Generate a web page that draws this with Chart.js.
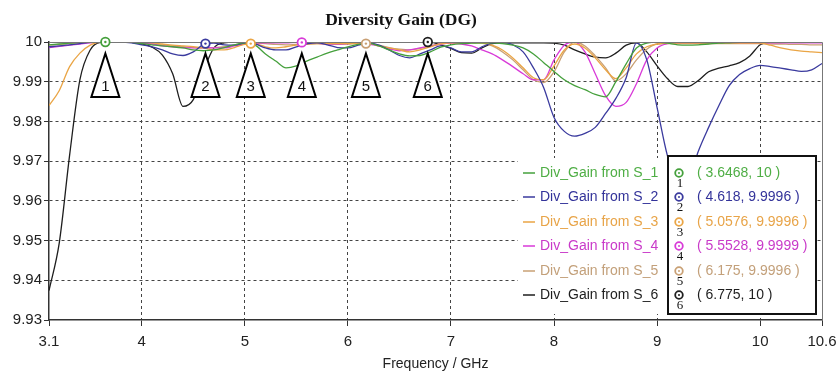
<!DOCTYPE html>
<html>
<head>
<meta charset="utf-8">
<script src="https://cdn.jsdelivr.net/npm/chart.js@4.4.0/dist/chart.umd.min.js"></script>
<style>
  html, body { margin: 0; padding: 0; background: #fff; }
  #wrap { width: 837px; height: 379px; }
</style>
</head>
<body>
<div id="wrap"><canvas id="dgChart" width="837" height="379"></canvas></div>
<script>
// frequency grid (GHz)
var freq = [3.1, 3.2, 3.3, 3.4, 3.5, 3.6, 3.7, 3.8, 3.9,
  4.0, 4.1, 4.2, 4.3, 4.4, 4.5, 4.6, 4.7, 4.8, 4.9,
  5.0, 5.1, 5.2, 5.3, 5.4, 5.5, 5.6, 5.7, 5.8, 5.9,
  6.0, 6.1, 6.2, 6.3, 6.4, 6.5, 6.6, 6.7, 6.8, 6.9,
  7.0, 7.1, 7.2, 7.3, 7.4, 7.5, 7.6, 7.7, 7.8, 7.9,
  8.0, 8.1, 8.2, 8.3, 8.4, 8.5, 8.6, 8.7, 8.8, 8.9,
  9.0, 9.1, 9.2, 9.3, 9.4, 9.5, 9.6, 9.7, 9.8, 9.9,
  10.0, 10.1, 10.2, 10.3, 10.4, 10.5, 10.6];

// diversity gain for each port
var dgS1 = [9.9993, 9.9995, 9.9997, 9.9999, 10, 10, 10, 10, 9.9999,
  9.9996, 9.9993, 9.999, 9.9988, 9.9985, 9.998, 9.9978, 9.998, 9.9986, 9.9993,
  9.9998, 9.9992, 9.997, 9.9952, 9.9935, 9.994, 9.9952, 9.9962, 9.9972, 9.998,
  9.9988, 9.9994, 9.9997, 9.999, 9.998, 9.997, 9.9965, 9.9966, 9.9975, 9.9987,
  9.9993, 9.9996, 9.9997, 9.9998, 9.9998, 9.9996, 9.9992, 9.9985, 9.997, 9.9948,
  9.9926, 9.9905, 9.989, 9.988, 9.9868, 9.9862, 9.99, 9.9945, 9.9985, 9.9997,
  10, 9.9997, 9.9993, 9.9992, 9.9993, 9.9995, 9.9997, 9.9998, 9.9999, 9.9999,
  9.9999, 9.9999, 9.9999, 9.9999, 9.9999, 9.9999, 9.9999];

var dgS2 = [9.9988, 9.999, 9.9993, 9.9996, 9.9999, 10, 10, 10, 9.9998,
  9.9993, 9.9988, 9.998, 9.997, 9.9966, 9.9975, 9.9994, 9.9997, 9.9993, 9.9992,
  9.9997, 9.9995, 9.9985, 9.998, 9.998, 9.9988, 9.9995, 9.9998, 9.9993, 9.9986,
  9.9985, 9.9992, 9.9998, 9.9992, 9.998, 9.9966, 9.996, 9.997, 9.998, 9.999,
  9.9985, 9.9975, 9.9975, 9.9988, 9.9997, 10, 9.9993, 9.9975, 9.9935, 9.9885,
  9.981, 9.9775, 9.9763, 9.977, 9.9785, 9.982, 9.9858, 9.991, 9.9998, 9.9955,
  9.9835, 9.9714, 9.964, 9.965, 9.9725, 9.9785, 9.984, 9.989, 9.9918, 9.9933,
  9.9941, 9.9938, 9.9934, 9.993, 9.9926, 9.993, 9.9946];

var dgS3 = [9.984, 9.9878, 9.9938, 9.9972, 9.9992, 10, 10, 10, 10,
  10, 9.9998, 9.9995, 9.9992, 9.999, 9.9988, 9.9985, 9.998, 9.998, 9.9986,
  9.9994, 9.9995, 9.9988, 9.9985, 9.9988, 9.9992, 9.9995, 9.9996, 9.9996, 9.9996,
  9.9996, 9.9997, 9.9998, 9.999, 9.9985, 9.998, 9.9975, 9.998, 9.9988, 9.9995,
  9.9998, 9.9998, 9.9998, 9.9998, 9.9992, 9.998, 9.996, 9.9935, 9.991, 9.9905,
  9.994, 9.998, 9.9995, 9.9985, 9.996, 9.993, 9.9908, 9.9935, 9.997, 9.9988,
  9.9995, 9.9997, 9.9997, 9.9997, 9.9997, 9.9997, 9.9997, 9.9997, 9.9997, 9.9997,
  9.9997, 9.9992, 9.9985, 9.998, 9.9977, 9.9975, 9.9973];

var dgS4 = [9.9986, 9.9989, 9.9992, 9.9995, 9.9998, 10, 10, 10, 10,
  9.9998, 9.9995, 9.999, 9.9988, 9.9986, 9.9985, 9.9986, 9.9985, 9.9985, 9.999,
  9.9995, 9.9997, 9.9998, 9.9998, 9.9998, 9.9999, 9.9999, 9.9997, 9.9995, 9.9995,
  9.9996, 9.9997, 9.9995, 9.999, 9.9983, 9.9978, 9.998, 9.9985, 9.999, 9.9995,
  9.9997, 9.9995, 9.999, 9.998, 9.997, 9.9955, 9.9938, 9.992, 9.9905, 9.9905,
  9.9955, 9.9992, 10, 9.9975, 9.992, 9.9865, 9.9838, 9.9848, 9.9895, 9.9955,
  9.9985, 9.9996, 9.9998, 9.9998, 9.9998, 9.9998, 9.9998, 9.9998, 9.9998, 9.9998,
  9.9998, 9.9998, 9.9998, 9.9998, 9.9998, 9.9998, 9.9998];

var dgS5 = [9.9992, 9.9994, 9.9996, 9.9998, 10, 10, 10, 10, 10,
  9.9999, 9.9996, 9.9993, 9.999, 9.9988, 9.9986, 9.9985, 9.9986, 9.9988, 9.9992,
  9.9996, 9.9997, 9.9996, 9.9994, 9.9993, 9.9994, 9.9995, 9.9996, 9.9995, 9.9994,
  9.9995, 9.9996, 9.9996, 9.9992, 9.9986, 9.9982, 9.998, 9.9984, 9.999, 9.9995,
  9.9998, 9.9999, 9.9999, 9.9997, 9.999, 9.9975, 9.9955, 9.993, 9.9905, 9.9898,
  9.9925, 9.9975, 10, 9.999, 9.9965, 9.9935, 9.9902, 9.992, 9.9955, 9.9982,
  9.9995, 9.9996, 9.9996, 9.9996, 9.9996, 9.9996, 9.9996, 9.9996, 9.9996, 9.9996,
  9.9996, 9.9995, 9.9995, 9.9994, 9.9994, 9.9993, 9.9993];

var dgS6 = [9.9374, 9.9495, 9.9715, 9.9905, 9.998, 9.9999, 10, 10, 9.9999,
  9.9995, 9.9987, 9.9967, 9.992, 9.9838, 9.9855, 9.9928, 9.9985, 9.9998, 10,
  10, 10, 10, 10, 10, 10, 10, 10, 10, 10,
  10, 10, 10, 10, 10, 10, 10, 10, 10, 9.9993,
  9.9984, 9.9973, 9.9972, 9.9985, 9.9996, 9.9998, 9.9998, 9.9998, 9.9998, 9.9998,
  9.9997, 9.9992, 9.998, 9.997, 9.9962, 9.996, 9.9972, 9.9992, 9.9998, 9.9975,
  9.994, 9.9908, 9.9888, 9.9888, 9.9903, 9.9925, 9.9934, 9.994, 9.9948, 9.9965,
  9.9993, 9.9999, 10, 10, 10, 10, 10];

var seriesNames = ['Div_Gain from S_1', 'Div_Gain from S_2', 'Div_Gain from S_3',
  'Div_Gain from S_4', 'Div_Gain from S_5', 'Div_Gain from S_6'];
var seriesValues = [dgS1, dgS2, dgS3, dgS4, dgS5, dgS6];
var lineColors = ['#45a03c', '#3a3a9e', '#eaa545', '#d83ad8', '#c9a074', '#1e1e1e'];
var textColors = ['#4fae45', '#33339a', '#e8a448', '#c93ac9', '#c3a07a', '#1e1e1e'];

// marker readouts
var markerFreq = [3.6468, 4.618, 5.0576, 5.5528, 6.175, 6.775];
var markerGain = [10, 9.9996, 9.9996, 9.9999, 9.9996, 10];

var xTicks = [3.1, 4, 5, 6, 7, 8, 9, 10, 10.6];
var yTicks = [9.93, 9.94, 9.95, 9.96, 9.97, 9.98, 9.99, 10];

var datasets = seriesValues.map(function (vals, i) {
  return {
    label: seriesNames[i],
    data: freq.map(function (f, j) { return { x: f, y: vals[j] }; }),
    borderColor: lineColors[i],
    borderWidth: 1.3,
    pointRadius: 0,
    fill: false,
    cubicInterpolationMode: 'monotone'
  };
});

function inside(v, lo, hi) { return v > lo + 1e-9 && v < hi - 1e-9; }

var overlay = {
  id: 'overlay',
  afterDatasetsDraw: function (chart) {
    var ctx = chart.ctx, xs = chart.scales.x, ys = chart.scales.y, a = chart.chartArea;
    ctx.save();

    // top and right frame
    ctx.strokeStyle = '#777';
    ctx.lineWidth = 1;
    ctx.beginPath();
    ctx.moveTo(a.left, a.top + 0.5); ctx.lineTo(a.right + 0.5, a.top + 0.5);
    ctx.lineTo(a.right + 0.5, a.bottom);
    ctx.stroke();

    // title
    ctx.fillStyle = '#111';
    ctx.font = 'bold 17.5px "Liberation Serif", serif';
    ctx.textAlign = 'center';
    ctx.textBaseline = 'alphabetic';
    ctx.fillText('Diversity Gain (DG)', 401, 25);

    // marker flags and circles
    markerFreq.forEach(function (f, i) {
      var px = xs.getPixelForValue(f), py = ys.getPixelForValue(markerGain[i]);
      ctx.beginPath();
      ctx.moveTo(px, a.top + 11.5);
      ctx.lineTo(px - 14, a.top + 55);
      ctx.lineTo(px + 14, a.top + 55);
      ctx.closePath();
      ctx.fillStyle = '#fff';
      ctx.fill();
      ctx.strokeStyle = '#000';
      ctx.lineWidth = 2;
      ctx.stroke();
      ctx.fillStyle = '#111';
      ctx.font = '15px "Liberation Sans", sans-serif';
      ctx.textAlign = 'center';
      ctx.textBaseline = 'middle';
      ctx.fillText(String(i + 1), px, a.top + 45);

      ctx.beginPath();
      ctx.arc(px, py, 4.3, 0, Math.PI * 2);
      ctx.fillStyle = '#fff';
      ctx.fill();
      ctx.strokeStyle = lineColors[i];
      ctx.lineWidth = 1.8;
      ctx.stroke();
      ctx.beginPath();
      ctx.arc(px, py, 1.2, 0, Math.PI * 2);
      ctx.fillStyle = lineColors[i];
      ctx.fill();
    });

    // legend and marker table
    var rowY = [173, 197, 222, 246, 271, 295];
    ctx.fillStyle = '#fff';
    ctx.fillRect(518, 158, 150, 156);
    ctx.fillRect(668, 156, 148, 158);
    ctx.strokeStyle = '#111';
    ctx.lineWidth = 2;
    ctx.strokeRect(668, 156, 148, 158);

    seriesNames.forEach(function (name, i) {
      var y = rowY[i];
      ctx.strokeStyle = lineColors[i];
      ctx.lineWidth = 1.5;
      ctx.beginPath();
      ctx.moveTo(523, y); ctx.lineTo(535, y);
      ctx.stroke();
      ctx.fillStyle = textColors[i];
      ctx.font = '14px "Liberation Sans", sans-serif';
      ctx.textAlign = 'left';
      ctx.textBaseline = 'middle';
      ctx.fillText(name, 540, y);
      ctx.fillText('( ' + markerFreq[i] + ', ' + markerGain[i] + ' )', 697, y);

      ctx.beginPath();
      ctx.arc(679, y, 3.8, 0, Math.PI * 2);
      ctx.strokeStyle = lineColors[i];
      ctx.lineWidth = 1.8;
      ctx.stroke();
      ctx.beginPath();
      ctx.arc(679, y, 1, 0, Math.PI * 2);
      ctx.fillStyle = lineColors[i];
      ctx.fill();
      ctx.fillStyle = '#111';
      ctx.font = '13px "Liberation Serif", serif';
      ctx.textAlign = 'center';
      ctx.fillText(String(i + 1), 680, y + 11);
    });

    ctx.restore();
  }
};

new Chart(document.getElementById('dgChart').getContext('2d'), {
  type: 'line',
  data: { datasets: datasets },
  options: {
    responsive: false,
    animation: false,
    events: [],
    layout: { padding: { top: 42, right: 15, bottom: 0, left: 0 } },
    plugins: { legend: { display: false }, tooltip: { enabled: false } },
    scales: {
      x: {
        type: 'linear',
        min: 3.1,
        max: 10.6,
        afterBuildTicks: function (s) { s.ticks = xTicks.map(function (v) { return { value: v }; }); },
        afterFit: function (s) { s.height = 59; s.paddingLeft = 0; s.paddingRight = 0; },
        ticks: {
          autoSkip: false,
          maxRotation: 0,
          padding: 7,
          color: '#222',
          font: { family: '"Liberation Sans", sans-serif', size: 15 },
          callback: function (v) { return String(v); }
        },
        grid: {
          color: function (c) { return c.tick && inside(c.tick.value, 3.1, 10.6) ? '#444' : 'rgba(0,0,0,0)'; },
          tickColor: '#333',
          tickLength: 6,
          lineWidth: 1
        },
        border: { display: true, color: '#333', width: 1.5, dash: [3, 3] },
        title: {
          display: true,
          text: 'Frequency / GHz',
          color: '#222',
          font: { family: '"Liberation Sans", sans-serif', size: 14 },
          padding: { top: 0, bottom: 6 }
        }
      },
      y: {
        type: 'linear',
        min: 9.93,
        max: 10,
        afterBuildTicks: function (s) { s.ticks = yTicks.map(function (v) { return { value: v }; }); },
        afterFit: function (s) { s.width = 49; s.paddingTop = 0; s.paddingBottom = 0; },
        ticks: {
          padding: 2,
          color: '#222',
          font: { family: '"Liberation Sans", sans-serif', size: 15 },
          callback: function (v) { return v >= 9.99999 ? '10' : v.toFixed(2); }
        },
        grid: {
          color: function (c) { return c.tick && inside(c.tick.value, 9.93, 10) ? '#444' : 'rgba(0,0,0,0)'; },
          tickColor: '#333',
          tickLength: 5,
          lineWidth: 1
        },
        border: { display: true, color: '#333', width: 1.5, dash: [3, 3] }
      }
    }
  },
  plugins: [overlay]
});
</script>
</body>
</html>
